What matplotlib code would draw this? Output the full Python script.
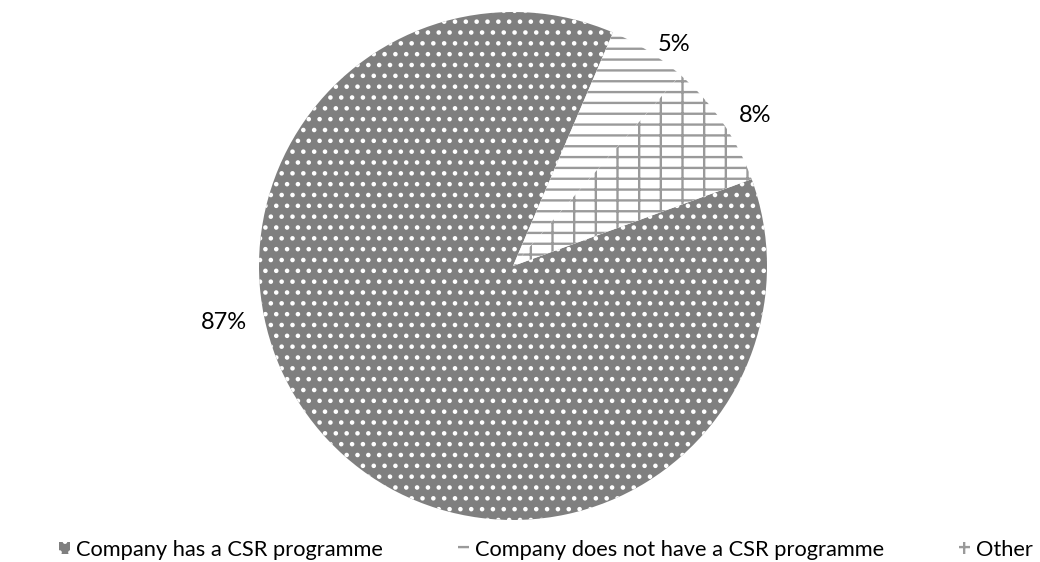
import matplotlib
matplotlib.use('Agg')
import matplotlib.pyplot as plt
from matplotlib.patches import Patch

plt.rcParams['font.family'] = ['Lato', 'DejaVu Sans']
plt.rcParams['hatch.linewidth'] = 1.3

labels = ['Company has a CSR programme', 'Company does not have a CSR programme', 'Other']
shares = [87, 5, 8]
pct_text = ['87%', '5%', '8%']

# look of each slice
faces = ['#7f7f7f', 'white', 'white']
hatch_cols = ['white', '#9a9a9a', '#9a9a9a']
hatches = ['..', '--', '-+']
# where Excel put the labels (pie radius = 1)
label_pos = [(-1.138, -0.224), (0.634, 0.874), (0.953, 0.591)]

# dpi 130 so the hatch spacing comes out close to the Excel fills
fig = plt.figure(figsize=(8.0, 562 / 130), dpi=130)
ax = fig.add_axes([259 / 1040, 42 / 562, 508 / 1040, 508 / 562])

wedges, _ = ax.pie(shares, startangle=20, counterclock=False, radius=1)
for w, fc, hc, h in zip(wedges, faces, hatch_cols, hatches):
    w.set_facecolor(fc)
    w.set_edgecolor(hc)
    w.set_hatch(h)
    w.set_linewidth(0)

for txt, (x, y) in zip(pct_text, label_pos):
    ax.text(x, y, txt, ha='center', va='center', fontsize=13.1, color='black')

ax.set_xlim(-1, 1)
ax.set_ylim(-1, 1)
ax.set_aspect('equal')
ax.axis('off')

handles = [Patch(facecolor=fc, edgecolor=hc, hatch=h, linewidth=0)
           for fc, hc, h in zip(faces, hatch_cols, hatches)]
fig.legend(handles, labels, loc='center', bbox_to_anchor=(0.525, 12 / 562), ncol=3,
           frameon=False, fontsize=12.15, handlelength=0.5, handleheight=0.5,
           handletextpad=0.3, columnspacing=3.4, borderaxespad=0)

fig.savefig('out.png', dpi=130)
